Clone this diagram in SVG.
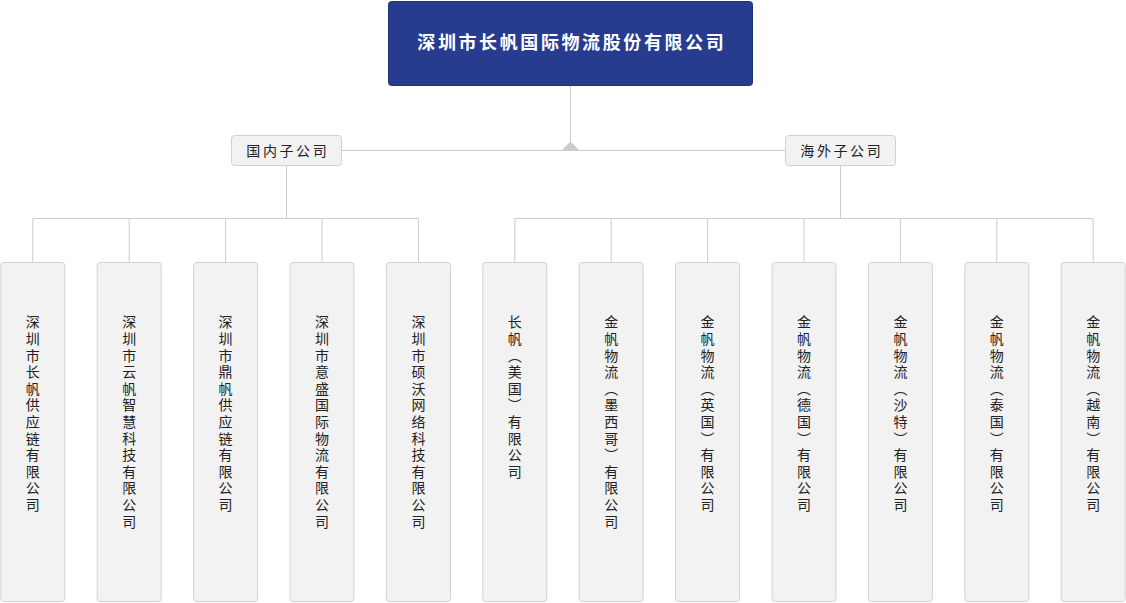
<svg xmlns="http://www.w3.org/2000/svg" width="1126" height="603" viewBox="0 0 1126 603">
<style>
.top{fill:#273c8f;stroke:#1f3280;stroke-width:1}
.mid{fill:#f2f2f2;stroke:#d2d2d2;stroke-width:1}
.leaf{fill:#f2f2f2;stroke:#d2d2d2;stroke-width:1}
.ln{stroke:#cccccc;stroke-width:1;fill:none}
.t{font-family:"Noto Sans CJK SC","Noto Sans",sans-serif;fill:#222;font-size:14px}
.tt{font-family:"Noto Sans CJK SC","Noto Sans",sans-serif;fill:#ffffff;font-size:18px;font-weight:bold;letter-spacing:2.6px}
.h{letter-spacing:2.6px}
.v{writing-mode:vertical-rl;letter-spacing:2.6px}
</style>
<rect width="1126" height="603" fill="#ffffff"/>
<g id="connectors">
<path class="ln" d="M570.5 85V150.5M341.5 150.5H785.5M286.5 165.5V218.5M32.8 218.5H418.4M32.8 218.5V262.5M129.2 218.5V262.5M225.6 218.5V262.5M322 218.5V262.5M418.4 218.5V262.5M840.5 165.5V218.5M514.8 218.5H1093.2M514.8 218.5V262.5M611.2 218.5V262.5M707.6 218.5V262.5M804 218.5V262.5M900.4 218.5V262.5M996.8 218.5V262.5M1093.2 218.5V262.5"/>
<polygon points="561.5,150.5 570.5,141.5 579.5,150.5" fill="#cccccc"/>
</g>
<g id="root">
<rect class="top" x="388.5" y="1.5" width="364" height="84" rx="3"/>
<text class="tt" x="571.8" y="49" text-anchor="middle">深圳市长帆国际物流股份有限公司</text>
</g>
<g id="domestic">
<rect class="mid" x="231.5" y="135.5" width="110" height="30" rx="3"/>
<text class="t h" x="287.8" y="156" text-anchor="middle">国内子公司</text>
</g>
<g id="overseas">
<rect class="mid" x="785.5" y="135.5" width="110" height="30" rx="3"/>
<text class="t h" x="841.8" y="156" text-anchor="middle">海外子公司</text>
</g>
<g id="leaf1"><rect class="leaf" x="0.8" y="262.5" width="64" height="339" rx="3"/><text class="t v" x="32.8" y="315">深圳市长帆供应链有限公司</text></g>
<g id="leaf2"><rect class="leaf" x="97.2" y="262.5" width="64" height="339" rx="3"/><text class="t v" x="129.2" y="315">深圳市云帆智慧科技有限公司</text></g>
<g id="leaf3"><rect class="leaf" x="193.6" y="262.5" width="64" height="339" rx="3"/><text class="t v" x="225.6" y="315">深圳市鼎帆供应链有限公司</text></g>
<g id="leaf4"><rect class="leaf" x="290" y="262.5" width="64" height="339" rx="3"/><text class="t v" x="322" y="315">深圳市意盛国际物流有限公司</text></g>
<g id="leaf5"><rect class="leaf" x="386.4" y="262.5" width="64" height="339" rx="3"/><text class="t v" x="418.4" y="315">深圳市硕沃网络科技有限公司</text></g>
<g id="leaf6"><rect class="leaf" x="482.8" y="262.5" width="64" height="339" rx="3"/><text class="t v" x="514.8" y="315">长帆（美国）有限公司</text></g>
<g id="leaf7"><rect class="leaf" x="579.2" y="262.5" width="64" height="339" rx="3"/><text class="t v" x="611.2" y="315">金帆物流（墨西哥）有限公司</text></g>
<g id="leaf8"><rect class="leaf" x="675.6" y="262.5" width="64" height="339" rx="3"/><text class="t v" x="707.6" y="315">金帆物流（英国）有限公司</text></g>
<g id="leaf9"><rect class="leaf" x="772" y="262.5" width="64" height="339" rx="3"/><text class="t v" x="804" y="315">金帆物流（德国）有限公司</text></g>
<g id="leaf10"><rect class="leaf" x="868.4" y="262.5" width="64" height="339" rx="3"/><text class="t v" x="900.4" y="315">金帆物流（沙特）有限公司</text></g>
<g id="leaf11"><rect class="leaf" x="964.8" y="262.5" width="64" height="339" rx="3"/><text class="t v" x="996.8" y="315">金帆物流（泰国）有限公司</text></g>
<g id="leaf12"><rect class="leaf" x="1061.2" y="262.5" width="64" height="339" rx="3"/><text class="t v" x="1093.2" y="315">金帆物流（越南）有限公司</text></g>
</svg>
